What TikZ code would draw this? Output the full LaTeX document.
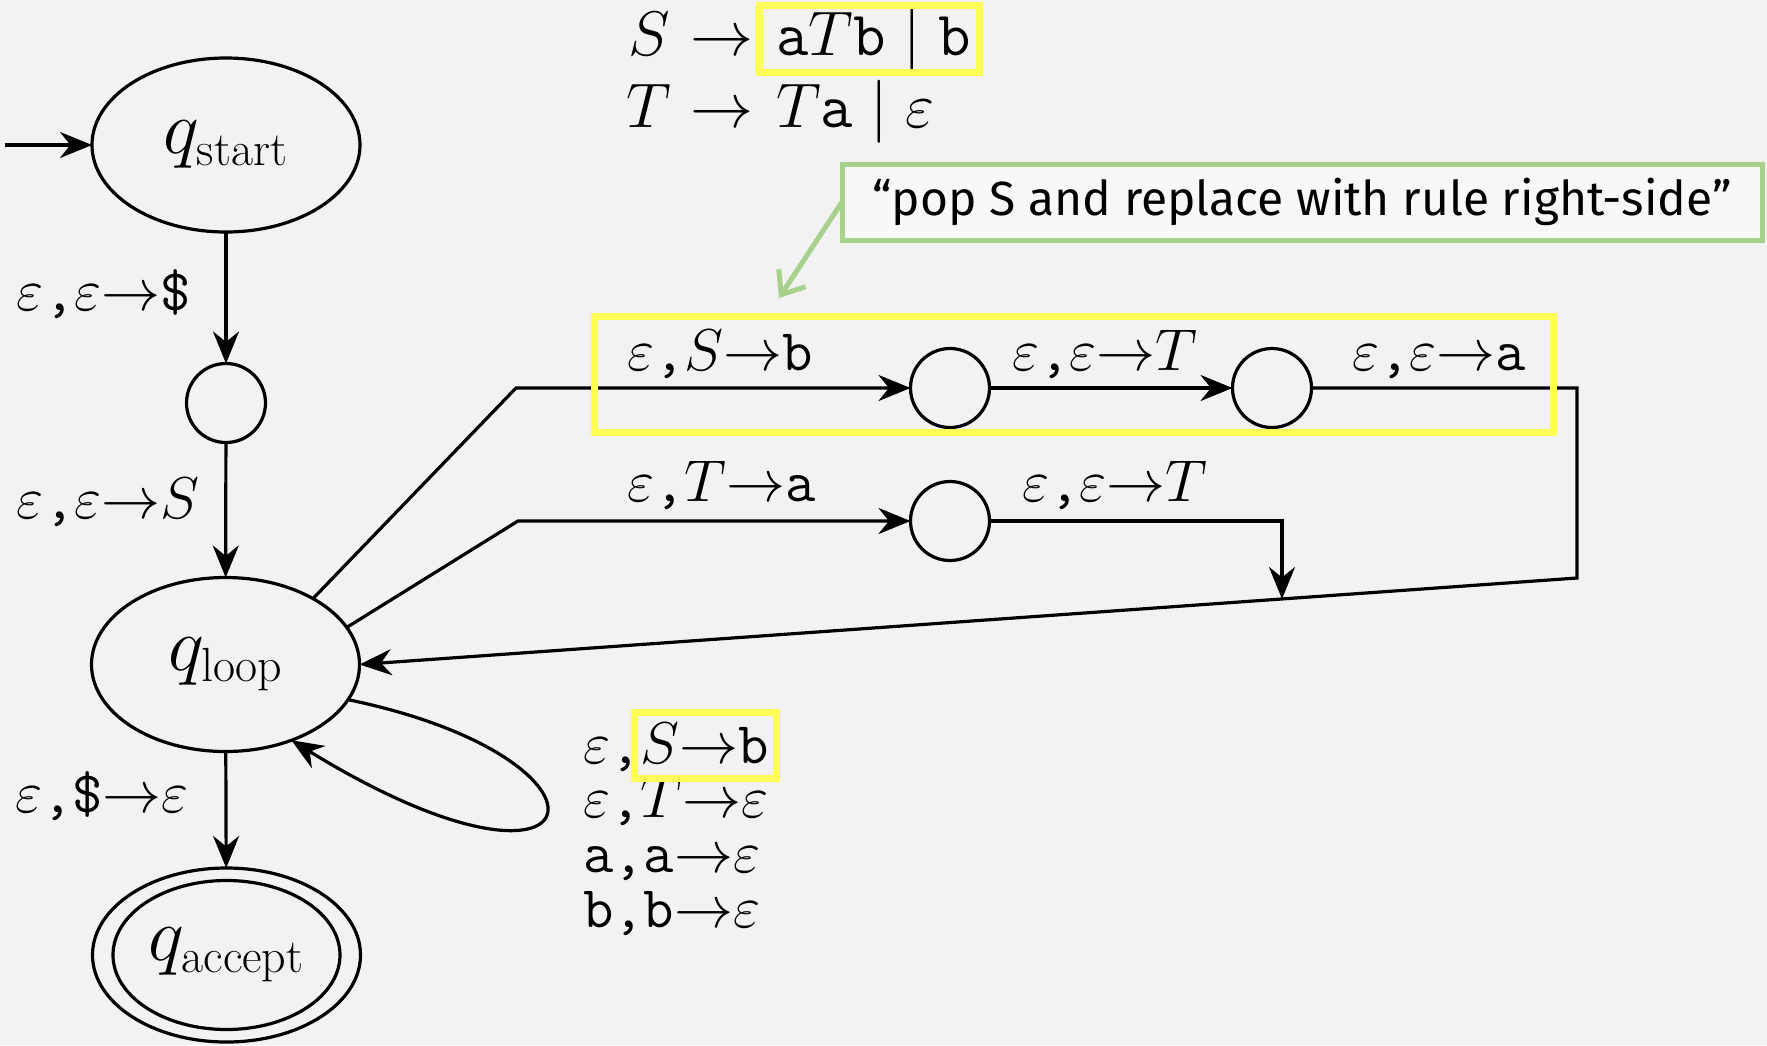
\RequirePackage{fix-cm}
\documentclass[tikz,border=0pt]{standalone}
\usepackage{fontspec}
\newfontfamily\fira{Fira Sans}
\usetikzlibrary{arrows.meta,shapes.geometric}
\definecolor{bg}{HTML}{F2F2F2}
\definecolor{hlyellow}{HTML}{FFFF55}
\definecolor{hlgreen}{HTML}{A9D18E}
\definecolor{notefill}{HTML}{F8F8F8}
\DeclareMathSizes{38}{38}{24}{17}
\newcommand{\lab}{\fontsize{29.5}{35}\selectfont}
\newcommand{\gram}{\fontsize{31.5}{38}\selectfont}
\newcommand{\eps}{\varepsilon}
\newcommand{\tc}{\texttt{,}}
\begin{document}
\begin{tikzpicture}[x=0.5pt,y=-0.5pt,
  every node/.style={inner sep=0pt, outer sep=0pt},
  state/.style={ellipse, draw, line width=1.6pt, fill=bg, minimum width=134pt, minimum height=87pt, font=\fontsize{38}{45}\selectfont},
  dot/.style={circle, draw, line width=1.6pt, minimum size=39.5pt, fill=bg},
  edge/.style={line width=1.6pt, -{Stealth[length=16pt,width=13pt]}},
  plain/.style={line width=1.6pt},
  lbl/.style={anchor=base west, font=\lab},
  glbl/.style={anchor=base west, font=\gram},
  hl/.style={draw=hlyellow, line width=3.5pt},
  ]
\fill[bg] (0,0) rectangle (1767,1045);
\useasboundingbox (0,0) rectangle (1767,1045);

% states
\node[state] (qs) at (226,145) {$q_{\mathrm{start}}$};
\node[dot] (c1) at (226,403) {};
\node[state] (ql) at (225.5,664.5) {$q_{\mathrm{loop}}$};
\node[state] (qa) at (226.5,955) {$q_{\mathrm{accept}}$};
\draw[plain] (qa.center) ellipse [x radius=113.5, y radius=74.5];
\node[dot] (c2) at (950,388) {};
\node[dot] (c3) at (1272,388) {};
\node[dot] (c4) at (950,521) {};

% connectors
\coordinate (init) at (5,145);
\draw[edge] (init) -- (qs);
\draw[edge] (qs) -- (c1);
\draw[edge] (c1) -- (ql);
\draw[edge] (ql) -- (qa);

\coordinate (u1) at (516,388);
\coordinate (u2) at (1577,388);
\coordinate (u3) at (1577,578);
\draw[edge] (ql.37) -- (u1) -- (c2);
\draw[edge] (c2) -- (c3);
\draw[edge] (c3) -- (u2) -- (u3) -- (ql.east);

\coordinate (m1) at (518,521);
\coordinate (m2) at (1282,521);
\coordinate (m3) at (1282,599);
\draw[edge] (ql.17) -- (m1) -- (c4);
\draw[edge] (c4) -- (m2) -- (m3);

\draw[edge] (ql.-16) .. controls (640,760) and (600,930) .. (ql.-49);

% labels
\node[lbl] (l1) at (17,310) {$\eps$\tc$\eps{\to}$\texttt{\$}};
\node[lbl] (l2) at (17,518) {$\eps$\tc$\eps{\to}S$};
\node[lbl] (l3) at (15,812) {$\eps$\tc\texttt{\$}${\to}\eps$};
\node[lbl] (l4) at (627,370) {$\eps$\tc$S{\to}$\texttt{b}};
\node[lbl] (l5) at (1012,370) {$\eps$\tc$\eps{\to}T$};
\node[lbl] (l6) at (1352,370) {$\eps$\tc$\eps{\to}$\texttt{a}};
\node[lbl] (l7) at (627,501) {$\eps$\tc$T{\to}$\texttt{a}};
\node[lbl] (l8) at (1022,501) {$\eps$\tc$\eps{\to}T$};
\node[lbl] (s1) at (583,763) {$\eps$\tc$S{\to}$\texttt{b}};
\node[lbl] (s2) at (583,817) {$\eps$\tc$T{\to}\eps$};
\node[lbl] (s3) at (583,872) {\texttt{a,a}${\to}\eps$};
\node[lbl] (s4) at (583,927) {\texttt{b,b}${\to}\eps$};

% grammar
\node[glbl] (gS) at (628,55) {$S$};
\node[glbl] (ga1) at (690,55) {$\to$};
\node[glbl] (gr1) at (776,55) {$\mathtt{a}T\mathtt{b}\mid\mathtt{b}$};
\node[glbl] (gT) at (626,127) {$T$};
\node[glbl] (ga2) at (690,127) {$\to$};
\node[glbl] (gr2) at (776,127) {$T\mathtt{a}\mid\eps$};

% highlights
\draw[hl] (759.5,5.5) rectangle (979,72.5);
\draw[hl] (594.5,316) rectangle (1553,432);
\draw[hl] (634,712) rectangle (776,778);

% note
\node[draw=hlgreen, line width=2.5pt, fill=notefill, minimum width=460pt, minimum height=38pt, font=\fira\fontsize{24}{29}\selectfont] (note) at (1302,202) {“pop S and replace with rule right-side”};
\coordinate (tip) at (779,298);
\draw[hlgreen, line width=2.5pt, line cap=round, -{Straight Barb[length=10pt,width=16pt]}] (note.west) -- (tip);
\end{tikzpicture}
\end{document}
